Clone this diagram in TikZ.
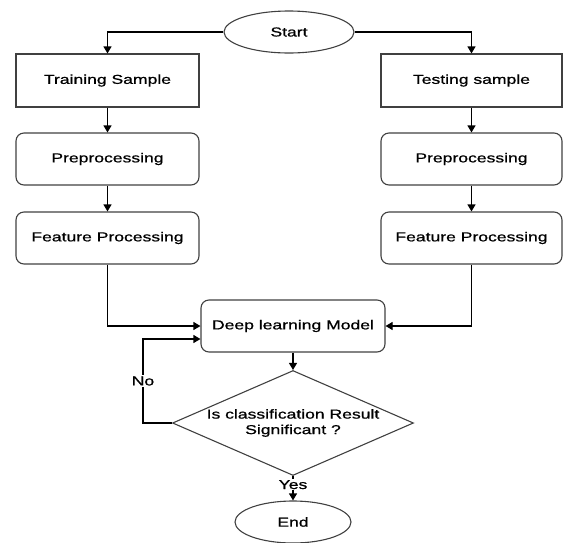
\documentclass[tikz,border=0pt]{standalone}
\usepackage{fontspec}
\setmainfont{Liberation Sans}[FakeStretch=1.35,FakeBold=0.8]
\usetikzlibrary{shapes.geometric,arrows.meta}

\begin{document}
\begin{tikzpicture}[x=1pt,y=-1pt,
		font=\fontsize{13}{15.5}\selectfont,
		box/.style={draw=black!75,line width=1.1pt,minimum width=183pt,minimum height=53pt,inner sep=0pt},
		rbox/.style={box,rounded corners=8pt,minimum height=52pt},
		term/.style={ellipse,draw=black!75,line width=1.1pt,inner sep=0pt,minimum height=42pt},
		test/.style={diamond,draw=black!75,line width=1.1pt,inner sep=0pt,aspect=2.3,align=center},
		arr/.style={line width=1.1pt,-{Triangle[length=7pt,width=8pt]}},
		lbl/.style={fill=white,inner sep=1pt}]
	\useasboundingbox (0,0) rectangle (563,542);
	% start and end
	\node[term,minimum width=130pt] (start) at (289,32) {Start};
	\node[term,minimum width=116pt] (end) at (293,522) {End};
	% training branch
	\node[box] (train) at (107.5,80.5) {Training Sample};
	\node[rbox] (prep1) at (107.5,159) {Preprocessing};
	\node[rbox] (feat1) at (107.5,238) {Feature Processing};
	% testing branch
	\node[box,minimum width=181pt] (testing) at (471.5,80.5) {Testing sample};
	\node[rbox,minimum width=181pt] (prep2) at (471.5,159) {Preprocessing};
	\node[rbox,minimum width=181pt] (feat2) at (471.5,238) {Feature Processing};
	% model and decision
	\node[rbox,minimum width=184pt] (model) at (293,326) {Deep learning Model};
	\node[test,minimum width=241pt,minimum height=105pt] (check) at (293,423) {Is classification Result\\Significant ?};
	\coordinate (nobend) at (143,423);
	\coordinate (noin) at ([yshift=-13pt]model.west);
	% connectors
	\draw[arr] (start) -| (train);
	\draw[arr] (start) -| (testing);
	\draw[arr] (train) -- (prep1);
	\draw[arr] (prep1) -- (feat1);
	\draw[arr] (testing) -- (prep2);
	\draw[arr] (prep2) -- (feat2);
	\draw[arr] (feat1) |- (model);
	\draw[arr] (feat2) |- (model);
	\draw[arr] (model) -- (check);
	\draw[arr] (check.west) -- (nobend) |- node[lbl,pos=0.25] {No} (noin);
	\draw[arr] (check.south) -- node[lbl,pos=0.35] {Yes} (end.north);
\end{tikzpicture}
\end{document}
